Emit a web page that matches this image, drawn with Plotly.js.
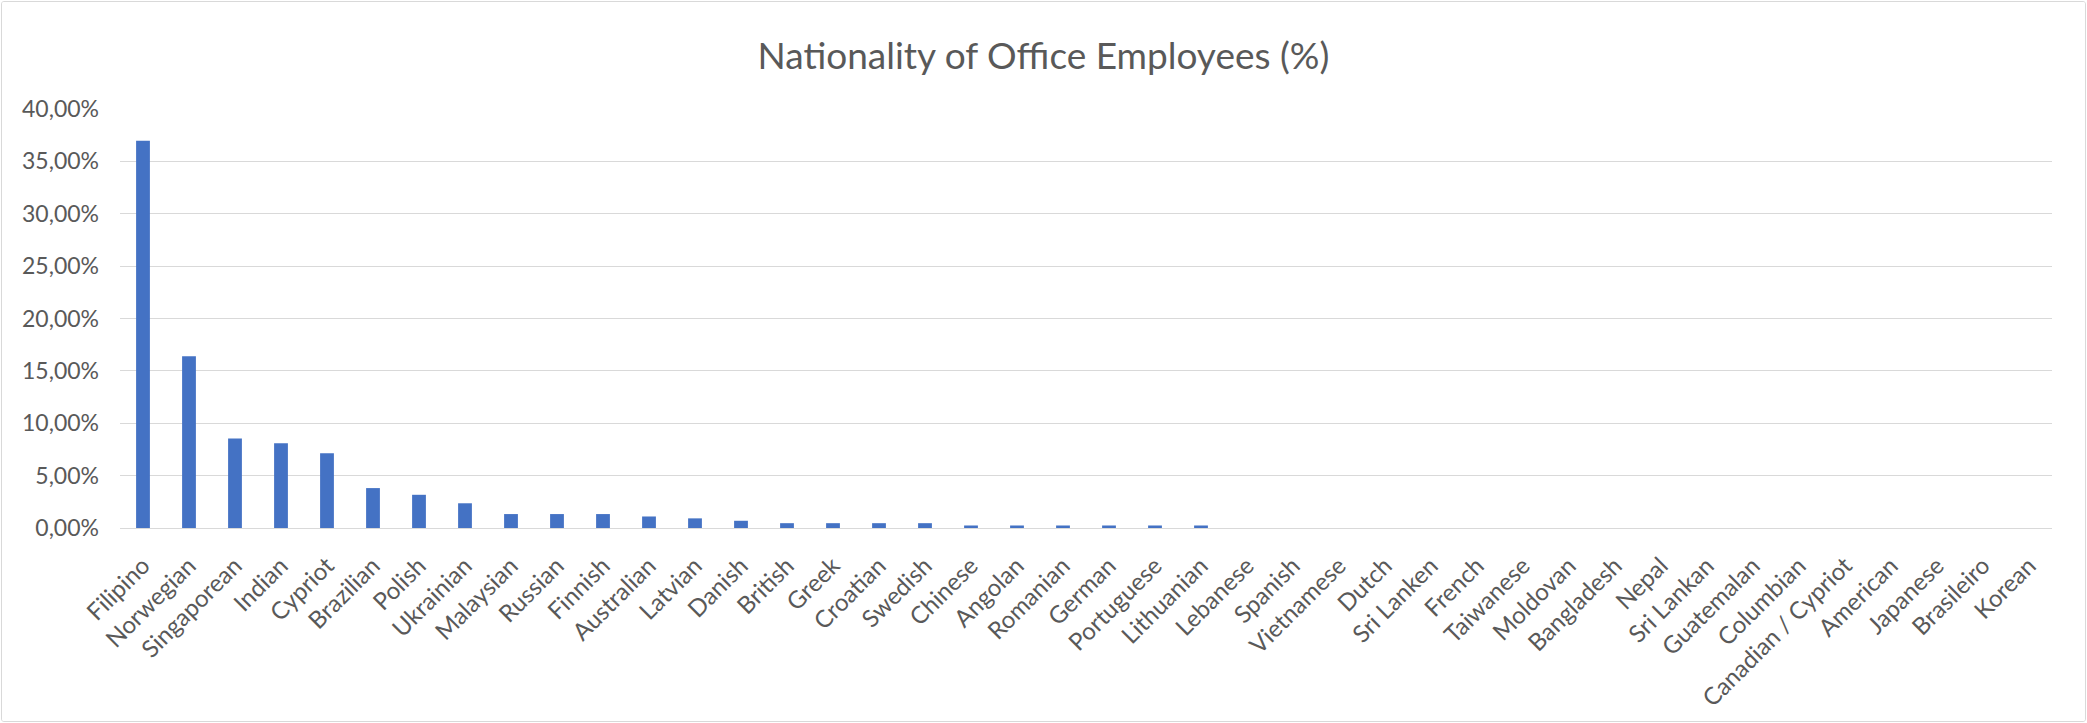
<!DOCTYPE html>
<html>
<head>
<meta charset="utf-8">
<script src="https://cdn.plot.ly/plotly-3.0.1.min.js"></script>
<style>
  html, body { margin: 0; padding: 0; background: #ffffff; }
  #frame { position: absolute; left: 1px; top: 1px; width: 2083px; height: 719px;
           border: 1px solid #d9d9d9; border-radius: 3px; overflow: hidden; background: #fff; }
  #chart { width: 2083px; height: 719px; }
</style>
</head>
<body>
<div id="frame"><div id="chart"></div></div>
<script>
const nationalities = [
  "Filipino", "Norwegian", "Singaporean", "Indian", "Cypriot", "Brazilian", "Polish",
  "Ukrainian", "Malaysian", "Russian", "Finnish", "Australian", "Latvian", "Danish",
  "British", "Greek", "Croatian", "Swedish", "Chinese", "Angolan", "Romanian", "German",
  "Portuguese", "Lithuanian", "Lebanese", "Spanish", "Vietnamese", "Dutch", "Sri Lanken",
  "French", "Taiwanese", "Moldovan", "Bangladesh", "Nepal", "Sri Lankan", "Guatemalan",
  "Columbian", "Canadian / Cypriot", "American", "Japanese", "Brasileiro", "Korean"
];
const sharePercent = [
  36.96, 16.40, 8.55, 8.10, 7.14, 3.81, 3.17,
  2.36, 1.33, 1.33, 1.33, 1.10, 0.92, 0.69,
  0.46, 0.46, 0.46, 0.46, 0.24, 0.24, 0.24, 0.24,
  0.24, 0.24, 0, 0, 0, 0, 0,
  0, 0, 0, 0, 0, 0, 0,
  0, 0, 0, 0, 0, 0
];
const yTicks = [0, 5, 10, 15, 20, 25, 30, 35, 40];
const yTickLabels = ["0,00%", "5,00%", "10,00%", "15,00%", "20,00%", "25,00%", "30,00%", "35,00%", "40,00%"];
const chartTitle = "Nationality of Office Employees (%)";

const fontFamily = "Lato, 'Open Sans', sans-serif";

const trace = {
  type: "bar",
  x: nationalities,
  y: sharePercent,
  marker: { color: "#4472c4", line: { width: 0 } },
  hoverinfo: "x+y"
};

const layout = {
  width: 2083,
  height: 719,
  margin: { l: 118, r: 33, t: 107, b: 193, pad: 0 },
  paper_bgcolor: "#ffffff",
  plot_bgcolor: "#ffffff",
  bargap: 0.7,
  showlegend: false,
  title: {
    text: chartTitle,
    font: { family: fontFamily, size: 37, color: "#595959" },
    x: 0.5, xanchor: "center",
    y: 1 - 54 / 719, yref: "container", yanchor: "middle"
  },
  xaxis: {
    type: "category",
    tickangle: -45,
    tickfont: { family: fontFamily, size: 24, color: "#595959" },
    showgrid: false,
    showline: false,
    ticks: "",
    ticklabelstandoff: 18,
    automargin: false
  },
  yaxis: {
    range: [0, 40],
    tickvals: yTicks,
    ticktext: yTickLabels,
    tickfont: { family: fontFamily, size: 23, color: "#595959" },
    showgrid: true,
    gridcolor: "#d9d9d9",
    gridwidth: 1,
    zeroline: true,
    zerolinecolor: "#d9d9d9",
    zerolinewidth: 1,
    showline: false,
    ticks: "",
    ticklabelstandoff: 20,
    automargin: false
  }
};

Plotly.newPlot("chart", [trace], layout, { displayModeBar: false, staticPlot: true });
</script>
</body>
</html>
